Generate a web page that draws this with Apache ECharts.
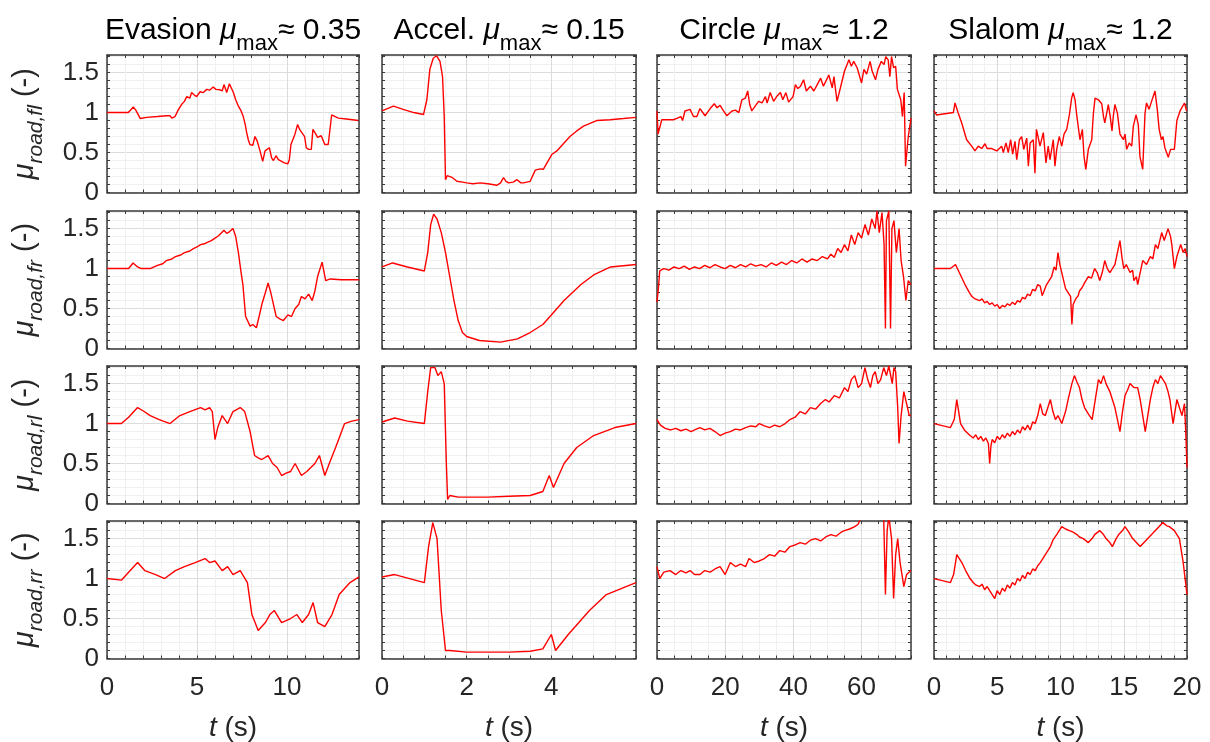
<!DOCTYPE html>
<html><head><meta charset="utf-8">
<script src="https://cdn.jsdelivr.net/npm/echarts@6/dist/echarts.min.js"></script>
<style>html,body{margin:0;padding:0;background:#fff}#c{width:1210px;height:742px}</style>
</head><body><div id="c"></div>
<script>
// ---------------- DATA ----------------
const scenarios = ['Evasion', 'Accel.', 'Circle', 'Slalom'];
const muMaxText = ['0.35', '0.15', '1.2', '1.2'];
const wheels = ['fl', 'fr', 'rl', 'rr'];
const xMax = [14, 6, 74.5, 20];
const xMinorStep = [1, 0.5, 5, 1];
const xMajorStep = [5, 2, 20, 5];
const xTickLabels = [[0, 5, 10], [0, 2, 4], [0, 20, 40, 60], [0, 5, 10, 15, 20]];
const yMax = 1.72;
const yMinorStep = 0.1;
const yMajorStep = 0.5;
const yTickLabels = [0, 0.5, 1, 1.5];

// Evasion (t in s, mu_road)
const evasionFl = [[0,1.0],[1.18,1.0],[1.3,1.03],[1.46,1.07],[1.6,1.03],[1.85,0.925],[2.2,0.94],[2.8,0.95],[3.3,0.96],[3.5,0.96],[3.6,0.93],[3.78,0.95],[3.95,1.03],[4.14,1.10],[4.3,1.14],[4.43,1.20],[4.6,1.18],[4.7,1.25],[4.85,1.22],[4.98,1.2],[5.17,1.26],[5.35,1.25],[5.54,1.29],[5.7,1.28],[5.9,1.32],[6.05,1.29],[6.28,1.285],[6.4,1.27],[6.5,1.35],[6.65,1.25],[6.8,1.36],[7.02,1.25],[7.15,1.16],[7.3,1.08],[7.45,1.02],[7.57,0.95],[7.68,0.85],[7.76,0.75],[7.85,0.66],[7.94,0.60],[8.1,0.59],[8.22,0.70],[8.35,0.64],[8.5,0.52],[8.65,0.39],[8.78,0.52],[9.02,0.56],[9.15,0.43],[9.25,0.40],[9.39,0.46],[9.52,0.41],[9.7,0.39],[9.85,0.37],[9.94,0.35],[10.05,0.36],[10.13,0.41],[10.22,0.60],[10.44,0.73],[10.59,0.85],[10.7,0.79],[10.98,0.70],[11.07,0.56],[11.2,0.54],[11.35,0.54],[11.44,0.79],[11.6,0.73],[11.7,0.69],[11.9,0.71],[12.1,0.60],[12.29,0.60],[12.48,0.97],[12.57,0.99],[12.85,0.93],[13.3,0.92],[13.96,0.90]];
const evasionFr = [[0,1.0],[1.2,1.0],[1.45,1.07],[1.7,1.02],[1.9,1.0],[2.4,1.0],[2.8,1.04],[3.1,1.06],[3.3,1.1],[3.6,1.12],[3.8,1.15],[4.1,1.17],[4.3,1.2],[4.6,1.22],[4.8,1.25],[5.0,1.27],[5.2,1.3],[5.4,1.31],[5.6,1.33],[5.8,1.35],[6.0,1.38],[6.2,1.41],[6.3,1.43],[6.5,1.48],[6.65,1.44],[6.8,1.46],[7.0,1.5],[7.15,1.4],[7.3,1.2],[7.45,0.95],[7.55,0.8],[7.7,0.4],[7.95,0.28],[8.1,0.3],[8.3,0.26],[8.45,0.4],[8.6,0.55],[8.8,0.7],[8.95,0.82],[9.1,0.7],[9.2,0.6],[9.4,0.4],[9.6,0.37],[9.8,0.35],[10.05,0.42],[10.25,0.4],[10.45,0.5],[10.65,0.55],[10.8,0.65],[11.0,0.62],[11.2,0.68],[11.4,0.6],[11.55,0.72],[11.7,0.9],[11.95,1.08],[12.15,0.85],[12.4,0.87],[13.0,0.86],[14,0.86]];
const evasionRl = [[0,1.0],[0.8,1.0],[1.2,1.08],[1.7,1.2],[2.0,1.16],[2.4,1.1],[2.9,1.05],[3.5,1.0],[4.05,1.1],[4.6,1.15],[5.2,1.2],[5.45,1.17],[5.7,1.2],[5.85,1.15],[6.0,0.8],[6.15,0.95],[6.4,1.1],[6.55,1.05],[6.7,1.0],[7.0,1.15],[7.4,1.2],[7.65,1.15],[7.95,0.9],[8.2,0.6],[8.4,0.57],[8.6,0.55],[8.95,0.6],[9.2,0.5],[9.45,0.45],[9.7,0.35],[9.95,0.38],[10.2,0.4],[10.45,0.5],[10.8,0.35],[11.1,0.4],[11.55,0.5],[11.8,0.6],[12.1,0.35],[12.35,0.5],[12.7,0.7],[13.2,1.0],[13.6,1.03],[14,1.05]];
const evasionRr = [[0,1.0],[0.8,0.98],[1.2,1.08],[1.7,1.2],[2.1,1.1],[2.7,1.05],[3.2,1.0],[3.8,1.1],[4.3,1.15],[4.9,1.2],[5.45,1.25],[5.7,1.2],[6.0,1.22],[6.4,1.1],[6.7,1.15],[7.0,1.05],[7.4,1.1],[7.8,0.95],[8.05,0.55],[8.4,0.35],[8.8,0.45],[9.05,0.55],[9.3,0.6],[9.7,0.45],[10.2,0.5],[10.55,0.55],[10.85,0.45],[11.2,0.55],[11.45,0.7],[11.7,0.45],[12.1,0.4],[12.5,0.55],[12.9,0.8],[13.5,0.95],[14,1.02]];

// Accel.
const accelFl = [[0,1.02],[0.27,1.08],[0.5,1.04],[0.75,1.0],[0.98,0.975],[1.06,1.16],[1.13,1.54],[1.21,1.68],[1.29,1.71],[1.37,1.64],[1.43,1.45],[1.47,0.95],[1.5,0.16],[1.54,0.21],[1.65,0.19],[1.77,0.14],[1.9,0.13],[2.0,0.12],[2.15,0.11],[2.32,0.12],[2.5,0.11],[2.71,0.09],[2.8,0.12],[2.87,0.185],[2.93,0.14],[2.99,0.12],[3.1,0.13],[3.19,0.16],[3.28,0.12],[3.34,0.12],[3.5,0.14],[3.62,0.28],[3.74,0.295],[3.81,0.29],[4.01,0.475],[4.13,0.52],[4.3,0.62],[4.44,0.70],[4.6,0.77],[4.76,0.83],[5.07,0.90],[5.39,0.91],[5.7,0.925],[6.0,0.94]];
const accelFr = [[0,1.02],[0.25,1.07],[0.6,1.02],[1.0,0.97],[1.08,1.2],[1.15,1.55],[1.22,1.68],[1.3,1.62],[1.4,1.45],[1.5,1.2],[1.6,0.9],[1.7,0.6],[1.8,0.35],[1.9,0.2],[2.0,0.15],[2.3,0.1],[2.8,0.08],[3.2,0.12],[3.5,0.2],[3.8,0.3],[4.0,0.42],[4.3,0.6],[4.7,0.8],[5.0,0.92],[5.4,1.02],[6,1.05]];
const accelRl = [[0,1.02],[0.3,1.07],[0.6,1.03],[1.0,1.0],[1.08,1.4],[1.15,1.7],[1.25,1.7],[1.32,1.6],[1.4,1.65],[1.47,1.5],[1.52,0.5],[1.55,0.05],[1.6,0.1],[1.8,0.08],[2.5,0.08],[3.0,0.09],[3.5,0.1],[3.8,0.15],[3.95,0.35],[4.05,0.2],[4.3,0.5],[4.6,0.7],[5,0.85],[5.5,0.95],[6,1.0]];
const accelRr = [[0,1.02],[0.3,1.05],[1.0,0.95],[1.1,1.4],[1.2,1.7],[1.3,1.5],[1.4,0.6],[1.5,0.1],[1.6,0.1],[2,0.08],[3,0.08],[3.5,0.09],[3.8,0.12],[4.0,0.3],[4.1,0.1],[4.4,0.3],[4.9,0.6],[5.3,0.8],[6,0.95]];

// Circle
const circleFl = [[0,1.02],[0.3,0.73],[1.4,0.91],[3,0.91],[4.8,0.91],[6,0.93],[7.0,0.95],[7.5,0.90],[8.2,1.02],[9.7,1.04],[10.7,0.95],[11.7,0.95],[12.6,1.05],[14.1,0.96],[15.6,1.05],[16.8,1.11],[17.6,1.06],[18.5,1.09],[19.5,1.02],[20.5,0.96],[22,1.02],[23,1.03],[24,1.0],[24.9,1.16],[25.9,1.18],[26.6,1.27],[27.2,1.1],[27.8,1.02],[28.8,1.08],[29.8,1.14],[30.8,1.12],[31.8,1.2],[32.3,1.12],[33.2,1.25],[34.2,1.14],[35.1,1.2],[36.2,1.25],[36.9,1.16],[37.8,1.25],[38.6,1.13],[39.9,1.2],[40.6,1.35],[41.3,1.3],[42.1,1.33],[43,1.41],[43.8,1.27],[45,1.33],[46,1.27],[47,1.35],[48,1.43],[48.8,1.33],[49.5,1.39],[50.4,1.47],[51.4,1.31],[51.9,1.45],[52.8,1.14],[53.8,1.31],[55,1.52],[56.3,1.66],[57,1.58],[57.7,1.64],[58.7,1.56],[60,1.37],[60.7,1.54],[61.5,1.48],[62.5,1.64],[63.1,1.52],[64.1,1.41],[64.8,1.54],[65.8,1.64],[66.6,1.6],[67.1,1.70],[67.8,1.66],[68.3,1.45],[68.8,1.70],[69.4,1.56],[70,1.58],[70.5,1.29],[71.5,1.16],[72,0.95],[72.5,1.25],[72.9,0.33],[73.7,0.70],[74.5,0.93]];
const circleFr = [[0,0.58],[0.4,0.75],[0.8,0.97],[2,1.0],[3.5,0.98],[5,1.02],[6.5,1.0],[8,1.03],[9.5,0.99],[11,1.02],[12.5,1.0],[14,1.04],[15.5,1.01],[17,1.05],[18.5,1.02],[20,1.0],[21.5,1.04],[23,1.01],[24.5,1.05],[26,1.02],[27.5,1.06],[29,1.03],[30.5,1.05],[32,1.02],[33.5,1.07],[35,1.04],[36.5,1.08],[38,1.05],[39.5,1.1],[41,1.07],[42.5,1.12],[44,1.08],[45.5,1.12],[47,1.1],[48.5,1.15],[50,1.12],[51,1.18],[52,1.14],[53,1.25],[54,1.2],[55,1.3],[56,1.22],[57,1.42],[58,1.3],[59,1.45],[60,1.38],[61,1.55],[62,1.42],[63,1.62],[64,1.5],[64.5,1.72],[65.2,1.45],[66,1.7],[66.6,1.3],[67,0.25],[67.3,1.6],[68,1.72],[68.5,0.25],[68.9,1.5],[69.5,1.6],[70.2,1.2],[71,1.5],[71.6,1.1],[72.3,0.9],[73,0.6],[73.7,0.85],[74.5,0.8]];
const circleRl = [[0,1.05],[1,0.98],[2.4,0.94],[4,0.92],[5.5,0.94],[7,0.91],[8.5,0.93],[10,0.9],[11.5,0.93],[12.6,0.95],[14,0.92],[15.5,0.94],[17,0.9],[18.5,0.85],[20,0.88],[21.5,0.9],[23,0.93],[24.5,0.92],[26,0.95],[27.5,0.97],[29,0.96],[30,1.0],[31.5,0.97],[33,0.95],[34.5,0.98],[36,0.96],[37.6,1.0],[39,1.05],[40.5,1.08],[42,1.15],[43.5,1.12],[45,1.2],[46.5,1.18],[48,1.25],[49.4,1.3],[50.5,1.27],[52,1.35],[53.5,1.32],[55,1.45],[56,1.4],[57,1.55],[58,1.6],[59,1.45],[60,1.5],[61,1.7],[61.8,1.55],[62.6,1.45],[63.3,1.6],[64,1.65],[64.8,1.5],[65.6,1.55],[66.5,1.7],[67.3,1.6],[68,1.72],[69,1.5],[69.5,1.7],[70,1.65],[70.6,1.2],[71,0.75],[71.6,1.1],[72.4,1.4],[73.2,1.25],[74,1.1],[74.5,1.1]];
const circleRr = [[0,1.15],[0.8,1.0],[2,1.08],[3.8,1.1],[5.5,1.05],[7,1.1],[8.5,1.07],[9.7,1.1],[11,1.05],[12.6,1.05],[14,1.1],[15.6,1.08],[17,1.12],[18.5,1.15],[20,1.05],[21.5,1.2],[23,1.15],[24.5,1.18],[26,1.15],[27,1.25],[28.5,1.2],[30,1.22],[31.5,1.25],[33,1.3],[34.5,1.28],[36,1.35],[37.5,1.33],[39,1.4],[40.5,1.42],[42,1.45],[43.5,1.43],[45,1.48],[46.5,1.5],[48,1.47],[49.5,1.52],[51,1.55],[52.5,1.53],[54,1.58],[55,1.6],[56.5,1.62],[58,1.65],[59,1.68],[60,1.78],[62,1.8],[64,1.75],[65,1.8],[66.5,1.75],[67,0.8],[67.5,1.6],[68,1.78],[68.8,1.5],[69.4,0.75],[70,1.3],[70.6,1.5],[71.3,1.2],[72.4,0.9],[73.2,1.05],[74.5,1.1]];

// Slalom
const slalomFl = [[0,1.02],[0.2,0.97],[1.53,1.0],[1.66,1.12],[1.9,1.0],[2.19,0.87],[2.58,0.66],[2.98,0.58],[3.24,0.52],[3.5,0.58],[3.77,0.55],[4.03,0.61],[4.2,0.55],[4.56,0.55],[4.96,0.52],[5.35,0.58],[5.48,0.50],[5.69,0.62],[5.87,0.50],[6.06,0.66],[6.22,0.48],[6.4,0.64],[6.54,0.41],[6.75,0.66],[6.93,0.70],[7.1,0.54],[7.33,0.68],[7.46,0.33],[7.6,0.62],[7.85,0.66],[7.98,0.24],[8.1,0.79],[8.24,0.81],[8.38,0.58],[8.64,0.75],[8.85,0.37],[9.03,0.58],[9.17,0.41],[9.43,0.66],[9.56,0.33],[9.7,0.54],[9.9,0.70],[10.1,0.58],[10.28,0.73],[10.49,0.79],[10.7,0.97],[10.88,1.18],[11.0,1.25],[11.15,1.16],[11.28,0.97],[11.54,0.66],[11.73,0.79],[11.86,0.45],[12.0,0.29],[12.2,0.54],[12.47,0.66],[12.6,0.99],[12.73,1.18],[13.0,1.16],[13.26,1.11],[13.4,0.95],[13.5,0.87],[13.65,0.99],[13.78,1.10],[13.93,0.95],[14.07,0.77],[14.17,0.95],[14.3,1.10],[14.5,0.99],[14.7,0.73],[14.97,0.66],[15.1,0.73],[15.23,0.54],[15.43,0.62],[15.63,0.58],[15.76,0.83],[15.97,0.97],[16.15,0.85],[16.28,0.45],[16.5,0.29],[16.68,0.99],[16.8,1.12],[17.0,1.04],[17.2,1.14],[17.47,1.27],[17.65,1.04],[17.8,0.79],[17.98,0.66],[18.1,0.70],[18.25,0.56],[18.37,0.56],[18.52,0.44],[18.7,0.54],[19.0,0.54],[19.2,0.90],[19.45,1.02],[19.8,1.12],[19.97,1.02]];
const slalomFr = [[0,1.0],[1.3,1.0],[1.7,1.05],[2.0,0.95],[2.45,0.8],[2.8,0.7],[3.0,0.65],[3.25,0.62],[3.6,0.6],[3.8,0.62],[4.0,0.57],[4.2,0.59],[4.4,0.55],[4.6,0.57],[4.8,0.53],[5.0,0.55],[5.2,0.5],[5.4,0.54],[5.6,0.52],[5.8,0.56],[6.0,0.54],[6.2,0.58],[6.4,0.55],[6.6,0.6],[6.8,0.58],[7.0,0.64],[7.2,0.62],[7.4,0.68],[7.6,0.66],[7.8,0.74],[8.0,0.72],[8.2,0.8],[8.4,0.78],[8.55,0.66],[8.7,0.72],[8.9,0.8],[9.1,0.85],[9.3,0.9],[9.5,1.02],[9.65,0.98],[9.8,1.2],[9.95,1.05],[10.1,0.95],[10.25,0.85],[10.4,0.75],[10.6,0.7],[10.8,0.65],[10.9,0.3],[11.0,0.55],[11.2,0.62],[11.4,0.66],[11.5,0.72],[11.7,0.76],[11.9,0.82],[12.05,0.8],[12.2,0.9],[12.45,0.88],[12.7,1.0],[12.9,0.95],[13.1,0.85],[13.3,0.95],[13.5,1.1],[13.7,1.0],[13.9,0.95],[14.1,1.0],[14.3,1.05],[14.5,1.2],[14.7,1.35],[14.85,1.15],[15.0,1.0],[15.2,1.05],[15.5,0.95],[15.7,0.98],[15.8,0.85],[16.0,0.9],[16.1,0.8],[16.3,0.95],[16.5,1.1],[16.8,1.05],[17.1,1.15],[17.3,1.12],[17.5,1.3],[17.7,1.25],[18.0,1.45],[18.2,1.35],[18.5,1.5],[18.7,1.4],[18.8,1.3],[19.0,1.0],[19.2,1.15],[19.5,1.3],[19.7,1.2],[19.85,1.25],[20,1.15]];
const slalomRl = [[0,1.0],[1.3,0.95],[1.6,1.05],[1.8,1.3],[1.95,1.15],[2.1,1.0],[2.4,0.92],[2.85,0.85],[3.1,0.82],[3.3,0.86],[3.5,0.8],[3.7,0.84],[3.9,0.78],[4.1,0.82],[4.3,0.75],[4.4,0.5],[4.5,0.72],[4.6,0.8],[4.8,0.76],[5.0,0.84],[5.2,0.8],[5.4,0.86],[5.6,0.82],[5.8,0.88],[6.0,0.84],[6.2,0.9],[6.4,0.86],[6.6,0.92],[6.8,0.88],[7.0,0.96],[7.2,0.92],[7.4,0.98],[7.6,0.92],[7.8,1.02],[8.0,1.0],[8.2,1.1],[8.4,1.25],[8.6,1.12],[8.8,1.1],[9.0,1.2],[9.2,1.3],[9.4,1.15],[9.6,1.05],[9.8,1.1],[10.1,1.0],[10.4,1.15],[10.6,1.3],[10.9,1.5],[11.1,1.6],[11.3,1.52],[11.5,1.45],[11.7,1.3],[11.9,1.2],[12.2,1.12],[12.5,1.05],[12.75,1.3],[13.0,1.55],[13.2,1.5],[13.4,1.6],[13.6,1.5],[13.9,1.4],[14.1,1.3],[14.3,1.2],[14.5,1.05],[14.7,0.9],[14.9,1.15],[15.1,1.35],[15.3,1.42],[15.5,1.5],[15.8,1.45],[16.1,1.45],[16.3,1.3],[16.5,1.1],[16.7,0.9],[16.9,1.1],[17.1,1.3],[17.3,1.45],[17.5,1.55],[17.7,1.5],[17.9,1.6],[18.1,1.55],[18.3,1.5],[18.5,1.4],[18.65,1.3],[18.9,1.0],[19.05,1.15],[19.2,1.3],[19.4,1.2],[19.6,1.1],[19.8,1.25],[19.9,0.9],[20,0.45]];
const slalomRr = [[0,1.0],[1.3,0.95],[1.55,1.05],[1.8,1.3],[2.0,1.25],[2.2,1.2],[2.5,1.1],[2.85,1.0],[3.1,0.95],[3.3,0.92],[3.6,0.9],[3.8,0.93],[4.0,0.86],[4.2,0.9],[4.4,0.85],[4.6,0.8],[4.8,0.75],[5.0,0.85],[5.2,0.8],[5.4,0.88],[5.6,0.84],[5.8,0.92],[6.0,0.88],[6.2,0.95],[6.4,0.92],[6.6,1.0],[6.8,0.97],[7.0,1.04],[7.2,1.0],[7.4,1.08],[7.6,1.05],[7.8,1.12],[8.0,1.1],[8.2,1.16],[8.4,1.2],[8.6,1.25],[8.8,1.3],[9.0,1.35],[9.2,1.4],[9.4,1.48],[9.7,1.55],[9.9,1.6],[10.1,1.65],[10.4,1.62],[10.7,1.6],[11.0,1.58],[11.3,1.55],[11.5,1.52],[11.8,1.5],[12.2,1.45],[12.5,1.5],[12.7,1.55],[13.1,1.6],[13.4,1.55],[13.6,1.5],[13.9,1.45],[14.1,1.4],[14.4,1.5],[14.6,1.55],[14.9,1.6],[15.1,1.65],[15.4,1.58],[15.7,1.5],[16.0,1.45],[16.3,1.4],[16.6,1.45],[16.9,1.5],[17.2,1.55],[17.5,1.6],[17.8,1.65],[18.1,1.7],[18.4,1.66],[18.6,1.65],[19.0,1.6],[19.2,1.55],[19.4,1.5],[19.7,1.2],[19.85,1.0],[20,0.8]];

// rows = wheels, columns = scenarios
const panelData = [
  [evasionFl, accelFl, circleFl, slalomFl],
  [evasionFr, accelFr, circleFr, slalomFr],
  [evasionRl, accelRl, circleRl, slalomRl],
  [evasionRr, accelRr, circleRr, slalomRr]
];

// ---------------- LAYOUT / STYLE ----------------
const colLeft = [107, 382, 657, 934];
const colWidth = [252, 254, 254, 253];
const rowTop = [55, 211, 366, 521];
const rowHeight = 137.5;
const FONT = '"Liberation Sans", Arial, Helvetica, sans-serif';
const AX = '#3a3a3a';
const TXT = '#262626';
const MAJOR = '#dcdcdc';
const MINOR = '#f0f0f0';
const RED = '#ff0000';

function cyc(n) { const a = [MAJOR]; for (let i = 1; i < n; i++) a.push(MINOR); return a; }
function inList(list, v) { return list.some(l => Math.abs(l - v) < 1e-6); }

const grids = [], xAxes = [], yAxes = [], series = [];
for (let r = 0; r < 4; r++) {
  for (let c = 0; c < 4; c++) {
    const g = r * 4 + c;
    grids.push({ left: colLeft[c], top: rowTop[r], width: colWidth[c], height: rowHeight, containLabel: false });
    const axLine = { show: true, onZero: false, lineStyle: { color: AX, width: 1.5 } };
    const tick = { show: true, inside: true, length: 3, lineStyle: { color: AX, width: 1 } };
    xAxes.push({
      gridIndex: g, type: 'value', position: 'bottom', min: 0, max: xMax[c], interval: xMinorStep[c],
      axisLine: axLine, axisTick: tick,
      splitLine: { show: true, lineStyle: { color: cyc(Math.round(xMajorStep[c] / xMinorStep[c])), width: 1 } },
      axisLabel: {
        show: r === 3, interval: 0, margin: 16, fontSize: 26, fontFamily: FONT, color: TXT,
        showMinLabel: true, showMaxLabel: true, hideOverlap: false,
        formatter: v => inList(xTickLabels[c], v) ? String(Math.round(v)) : ''
      }
    });
    xAxes.push({
      gridIndex: g, type: 'value', position: 'top', min: 0, max: xMax[c], interval: xMinorStep[c],
      axisLine: axLine, axisTick: tick, splitLine: { show: false }, axisLabel: { show: false }
    });
    yAxes.push({
      gridIndex: g, type: 'value', position: 'left', min: 0, max: yMax, interval: yMinorStep,
      axisLine: axLine, axisTick: tick,
      splitLine: { show: true, lineStyle: { color: cyc(Math.round(yMajorStep / yMinorStep)), width: 1 } },
      axisLabel: {
        show: c === 0, interval: 0, margin: 8, fontSize: 26, fontFamily: FONT, color: TXT,
        showMinLabel: true, showMaxLabel: true, hideOverlap: false,
        formatter: v => inList(yTickLabels, v) ? String(+v.toFixed(1)) : ''
      }
    });
    yAxes.push({
      gridIndex: g, type: 'value', position: 'right', min: 0, max: yMax, interval: yMinorStep,
      axisLine: axLine, axisTick: tick, splitLine: { show: false }, axisLabel: { show: false }
    });
    series.push({
      type: 'line', xAxisIndex: 2 * g, yAxisIndex: 2 * g, data: panelData[r][c],
      showSymbol: false, symbol: 'none', lineStyle: { color: RED, width: 1.4 }, clip: true, z: 3
    });
  }
}

const graphics = [];
for (let c = 0; c < 4; c++) {
  const cx = colLeft[c] + colWidth[c] / 2;
  graphics.push({
    type: 'text', x: cx, y: 31,
    style: {
      text: '{a|' + scenarios[c] + ' }{mu|μ}{sub|max}{a|≈ ' + muMaxText[c] + '}',
      align: 'center', verticalAlign: 'middle', fill: '#000',
      rich: {
        a: { fontSize: 30, fontFamily: FONT, fill: '#000', lineHeight: 48 },
        mu: { fontSize: 30, fontFamily: FONT, fontStyle: 'italic', fill: '#000', lineHeight: 48 },
        sub: { fontSize: 22, fontFamily: FONT, fill: '#000', lineHeight: 22, verticalAlign: 'bottom' }
      }
    }
  });
  graphics.push({
    type: 'text', x: cx, y: 728,
    style: {
      text: '{it|t}{a| (s)}', align: 'center', verticalAlign: 'middle', fill: TXT,
      rich: {
        it: { fontSize: 28, fontFamily: FONT, fontStyle: 'italic', fill: TXT },
        a: { fontSize: 28, fontFamily: FONT, fill: TXT }
      }
    }
  });
}
for (let r = 0; r < 4; r++) {
  const cy = rowTop[r] + rowHeight / 2;
  graphics.push({
    type: 'text', x: 25, y: cy, rotation: Math.PI / 2,
    style: {
      text: '{mu|μ}{sub|road,' + wheels[r] + '}{a| (-)}',
      align: 'center', verticalAlign: 'middle', fill: TXT,
      rich: {
        mu: { fontSize: 29, fontFamily: FONT, fontStyle: 'italic', fill: TXT, lineHeight: 44 },
        sub: { fontSize: 21, fontFamily: FONT, fontStyle: 'italic', fill: TXT, lineHeight: 21, verticalAlign: 'bottom' },
        a: { fontSize: 29, fontFamily: FONT, fill: TXT, lineHeight: 44 }
      }
    }
  });
}

const chart = echarts.init(document.getElementById('c'), null, { renderer: 'canvas' });
chart.setOption({
  animation: false,
  backgroundColor: '#ffffff',
  grid: grids, xAxis: xAxes, yAxis: yAxes, series: series,
  graphic: graphics
});
</script></body></html>
